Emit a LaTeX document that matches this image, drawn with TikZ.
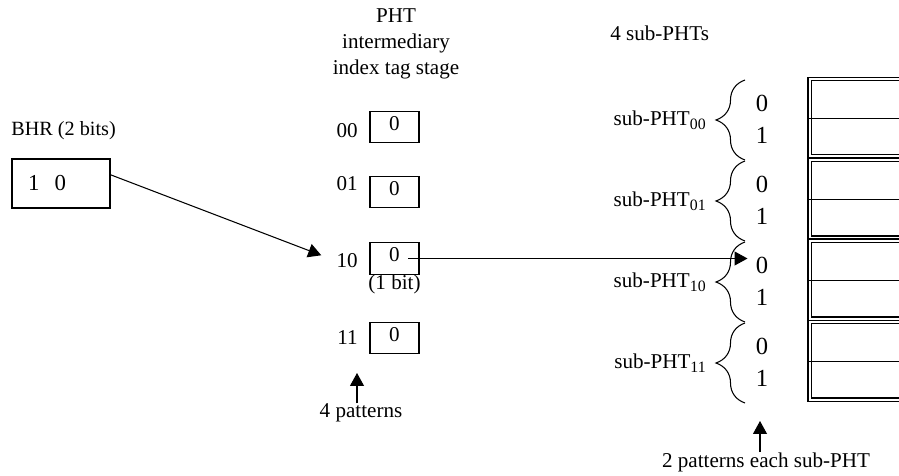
\documentclass[tikz,border=0pt]{standalone}
\usepackage{fontspec}
\setmainfont{Liberation Serif}
\usetikzlibrary{arrows.meta, positioning, decorations.pathreplacing}
\tikzset{
    % plain boxes and thin lines as in the PHT figure
    bitbox/.style = {rectangle, draw, line width=0.6pt, minimum width=0.98cm, inner xsep=0pt, inner ysep=2.8pt, text depth=4.4pt},
    arrow/.style = {line width=0.6pt, -{Triangle[length=0.26cm, width=0.28cm]}}
}
\newcommand{\lowsub}[1]{\raisebox{-0.45ex}{\fontsize{9}{9}\selectfont #1}}

\begin{document}
\begin{tikzpicture}[x=0.02cm, y=-0.02cm, font=\fontsize{12}{14.4}\selectfont]
\tikzset{
  digit/.style={inner sep=0pt, font=\fontsize{14}{16}\selectfont},
  subbrace/.style={decorate, decoration={brace, amplitude=0.58cm}, line width=0.6pt},
  tableline/.style={line width=0.6pt}
}
\useasboundingbox (0,0) rectangle (899,476);

% BHR
\node[anchor=west, inner sep=0pt, font=\fontsize{11.5}{13}\selectfont] (bhrlabel) at (11,131) {BHR (2 bits)};
\node[rectangle, draw, line width=0.6pt, text width=1.32cm, inner xsep=0.32cm, minimum height=0.98cm, align=left, font=\fontsize{13}{15}\selectfont] (bhr) at (61,183.5) {1\ \ 0};

% PHT intermediary index tag stage
\node[align=center, font=\fontsize{12}{14.7}\selectfont] (phthead) at (396,44) {PHT\\intermediary\\index tag stage};
\foreach \s/\y in {00/127,01/192,10/258.5,11/338}
  \node[bitbox] (p\s) at (394.5,\y) {0};
\foreach \s/\y in {00/131,01/184,10/261,11/338}
  \node[anchor=east, inner sep=0pt] (l\s) at (358,\y) {\s};
\node[below=0pt of p10, inner sep=0pt] (onebit) {(1 bit)};
\node[inner sep=0pt] (four) at (361,413) {4 patterns};
\coordinate (fourtip) at (357,373);

% sub-PHTs
\node[anchor=west, inner sep=0pt] (subhead) at (610,33) {4 sub-PHTs};
\foreach \i/\s in {0/00,1/01,2/10,3/11} {
  \draw[tableline, double, double distance=0.04cm] (905,79+81*\i) -- (809.5,79+81*\i) -- (809.5,156.5+81*\i) -- (905,156.5+81*\i);
  \draw[tableline] (808,118.5+81*\i) -- (905,118.5+81*\i);
  \node[digit] (z\s) at (762,103+81*\i) {0};
  \node[digit] (o\s) at (762,135+81*\i) {1};
  \draw[subbrace] (745,160+81*\i) -- coordinate[midway, xshift=-0.58cm] (tip\s) (745,80+81*\i);
  \node[left=0.2cm of tip\s, inner sep=0pt] (sub\s) {sub-PHT\lowsub{\s}};
}
\node[inner sep=0pt] (each) at (766,462) {2 patterns each sub-PHT};
\coordinate (eachtip) at (760,421);

\draw[arrow, shorten >=0.32cm] (bhr.10) -- (l10.west);
\draw[arrow, shorten >=0.16cm] ([xshift=0.27cm]p10.center) coordinate (from) -- (from -| z10.west);
\draw[arrow] (fourtip |- four.north) -- (fourtip);
\draw[arrow] (eachtip |- each.north) -- (eachtip);

\end{tikzpicture}
\end{document}
